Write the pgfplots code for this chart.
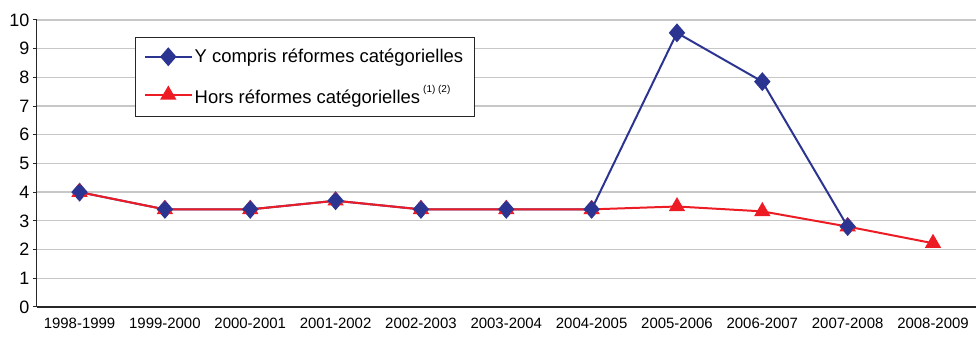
\documentclass[border=0pt]{standalone}
\usepackage{fontspec}
\setmainfont{Liberation Sans}
\usepackage{pgfplots}
\pgfplotsset{compat=1.18}
\definecolor{navyb}{RGB}{43,52,145}
\definecolor{redr}{RGB}{237,28,36}
\begin{document}
\begin{tikzpicture}
\begin{axis}[
  scale only axis,
  width=942pt, height=288pt,
  xmin=-0.5, xmax=10.5,
  ymin=0, ymax=10,
  ytick distance=1,
  xtick={0,...,10},
  xticklabels={1998-1999,1999-2000,2000-2001,2001-2002,2002-2003,2003-2004,2004-2005,2005-2006,2006-2007,2007-2008,2008-2009},
  x tick label style={font=\fontsize{15}{17}\selectfont, yshift=-4pt},
  y tick label style={font=\fontsize{18}{20}\selectfont},
  /pgf/number format/assume math mode=true,
  axis x line*=bottom, axis y line*=left,
  axis line style={-, black!85, line width=1.2pt},
  tick align=outside,
  x tick style={draw=none},
  y tick style={black!85, line width=1pt},
  major tick length=4pt,
  extra x ticks={-0.5,0.5,...,10.5},
  extra x tick labels={},
  extra x tick style={tick style={draw=black!85, line width=1pt}, major tick length=5pt},
  ymajorgrids,
  major grid style={black!22, line width=1.3pt},
  legend style={at={(0.104,0.941)}, anchor=north west, draw=black!85, line width=0.8pt,
    font=\fontsize{18.5}{21}\selectfont, inner xsep=9pt, inner ysep=10pt, row sep=17pt},
  legend cell align=left,
  legend image code/.code={
    \draw[#1, mark repeat=2, mark phase=2] plot coordinates {(0pt,0pt) (23.5pt,0pt) (47pt,0pt)};},
]
\addplot[navyb, line width=2pt, mark=diamond*, mark size=8pt, mark options={fill=navyb, xscale=1.15}]
coordinates {(0,4.0)(1,3.4)(2,3.4)(3,3.7)(4,3.4)(5,3.4)(6,3.4)(7,9.55)(8,7.85)(9,2.8)};
\addlegendentry{Y compris réformes catégorielles\hspace{12pt}}
\addplot[redr, line width=2pt, mark=triangle*, mark size=7.5pt, mark options={fill=redr}]
coordinates {(0,4.0)(1,3.4)(2,3.4)(3,3.7)(4,3.4)(5,3.4)(6,3.4)(7,3.5)(8,3.33)(9,2.8)(10,2.22)};
\addlegendentry{Hors réformes catégorielles\,\raisebox{1.1ex}{\fontsize{10}{11}\selectfont (1) (2)}}
\addplot[only marks, navyb, mark=diamond*, mark size=8pt, mark options={fill=navyb, xscale=1.15}, forget plot]
coordinates {(0,4.0)(1,3.4)(2,3.4)(3,3.7)(4,3.4)(5,3.4)(6,3.4)(7,9.55)(8,7.85)(9,2.8)};
\end{axis}
\path (current axis.south west) ++(-37pt,-37pt);
\path (current axis.north east) ++(0pt,20pt);
\end{tikzpicture}
\end{document}
